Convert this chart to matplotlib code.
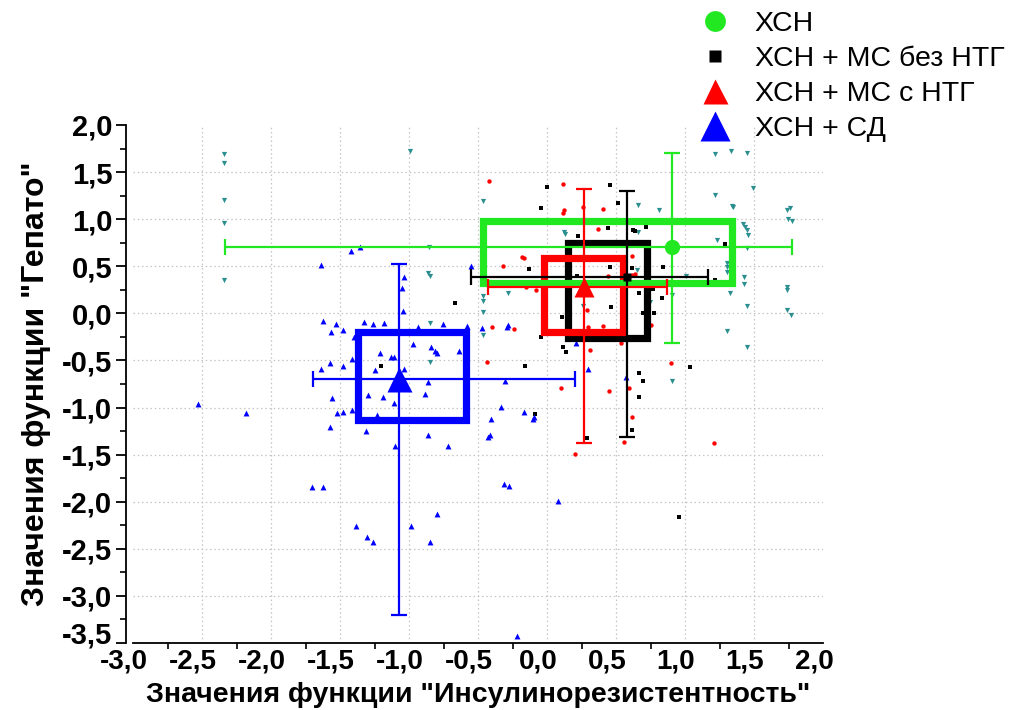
import numpy as np
import matplotlib
matplotlib.use("Agg")
import matplotlib.pyplot as plt
from matplotlib.patches import Rectangle
from matplotlib.lines import Line2D
from matplotlib.ticker import MultipleLocator, FixedLocator
from matplotlib.transforms import ScaledTranslation

plt.rcParams['font.family'] = ['Liberation Sans', 'DejaVu Sans']

# ---- individual patients: (insulin-resistance score, hepato score) ----
chsn_pts = np.array([
    (-2.338, 1.692), (-2.338, 1.600), (-2.338, 1.204), (-2.338, 0.963), (-2.338, 0.355),
    (-0.993, 1.727), (-0.853, 0.702), (-0.860, 0.432), (-0.848, 0.397), (-0.466, 1.190),
    (-0.466, 0.188), (-0.466, 0.135), (-0.466, 0.012), (-0.848, -0.099), (-0.466, -0.229),
    (-0.848, -0.519), (1.217, 1.692), (1.331, 1.727), (1.452, 1.706), (1.496, 1.334),
    (1.217, 1.257), (1.338, 1.140), (1.345, 1.126), (1.737, 1.098), (1.761, 1.116),
    (1.749, 0.999), (1.773, 0.984), (0.662, 1.151), (0.812, 1.098), (0.123, 0.867),
    (0.130, 0.843), (0.662, 0.867), (0.654, 0.461), (1.423, 0.949), (1.435, 0.920),
    (1.447, 0.885), (1.459, 0.832), (1.229, 0.779), (1.452, 0.691), (1.307, 0.532),
    (1.307, 0.489), (1.307, 0.443), (1.430, 0.390), (1.430, 0.312), (1.326, 0.213),
    (1.737, 0.283), (1.737, 0.248), (1.452, 0.082), (1.737, 0.036), (1.766, -0.017),
    (1.307, -0.187), (1.447, -0.354), (0.908, -0.714), (0.746, 0.124), (1.007, 0.397),
    (-0.280, 0.213), (0.263, 0.082), (0.908, 0.195),
])

ms_no_ntg_pts = np.array([
    (-0.667, 0.107), (-1.205, -0.558), (-0.087, -1.071), (0.698, -0.714), (0.669, -0.884),
    (0.616, -1.238), (0.292, -1.326), (0.954, -2.165), (0.003, 1.339), (0.457, 1.363),
    (0.512, 1.175), (-0.046, 1.116), (0.444, 0.910), (0.621, 0.885), (0.638, 0.878),
    (0.717, 0.920), (0.227, 0.822), (-0.128, 0.468), (0.457, 0.496), (0.614, 0.479),
    (0.838, 0.496), (0.220, 0.397), (0.771, 0.256), (0.667, 0.213), (0.831, 0.167),
    (0.461, 0.071), (0.693, 0.001), (0.775, 0.001), (0.111, -0.041), (-0.043, -0.247),
    (0.114, -0.354), (0.138, -0.413), (-0.159, -0.558), (1.036, -0.565), (0.669, -0.636),
    (1.290, 0.737), (1.217, 0.355),
])

ms_ntg_pts = np.array([
    (-0.418, 1.409), (-0.401, -0.141), (-0.433, -0.519), (0.101, -0.795), (0.203, -1.493),
    (0.447, -0.820), (0.594, -0.789), (0.613, -1.103), (0.560, -1.362), (1.210, -1.376),
    (0.118, 1.374), (0.126, 1.098), (0.116, 1.063), (0.263, 1.133), (0.408, 1.112),
    (0.372, 0.893), (-0.183, 0.596), (-0.167, 0.585), (-0.321, 0.506), (0.614, 0.609),
    (0.614, 0.408), (0.638, 0.418), (0.440, 0.397), (-0.152, 0.277), (-0.080, 0.248),
    (0.288, 0.036), (0.408, -0.134), (0.295, -0.141), (-0.239, -0.162), (0.312, -0.389),
    (0.534, -0.311), (0.896, -0.530), (0.754, -0.123),
])

dm_pts = np.array([
    (-1.420, 0.662), (-1.355, 0.702), (-1.638, 0.517), (-0.551, 0.503), (-1.036, 0.390),
    (-1.049, 0.273), (-1.041, 0.025), (-1.621, -0.077), (-1.531, -0.116), (-1.565, -0.201),
    (-1.476, -0.176), (-1.324, -0.088), (-1.259, -0.116), (-1.183, -0.099), (-0.937, -0.141),
    (-0.756, -0.113), (-0.582, -0.134), (-1.399, -0.254), (-1.208, -0.417), (-1.130, -0.460),
    (-1.111, -0.460), (-0.969, -0.328), (-0.841, -0.360), (-0.810, -0.399), (-0.795, -0.417),
    (-0.635, -0.396), (-1.411, -0.488), (-1.572, -0.530), (-1.476, -0.558), (-1.636, -0.587),
    (-1.246, -0.601), (-1.034, -0.587), (-0.860, -0.731), (-1.299, -0.866), (-1.186, -0.884),
    (-0.884, -0.859), (-1.560, -0.901), (-1.107, -0.954), (-2.527, -0.965), (-2.183, -1.054),
    (-1.524, -1.054), (-1.476, -1.043), (-1.415, -1.025), (-1.234, -1.078), (-0.408, -1.124),
    (-1.572, -1.203), (-1.314, -1.245), (-1.101, -1.404), (-0.865, -1.291), (-0.715, -1.408),
    (-0.336, -0.997), (-0.425, -1.315), (-0.413, -1.291), (-0.167, -1.043), (-0.104, -1.124),
    (-0.094, -1.103), (-1.701, -1.843), (-1.621, -1.843), (-0.312, -1.808), (-0.273, -1.832),
    (0.077, -1.988), (-1.384, -2.254), (-1.302, -2.374), (-1.263, -2.424), (-0.988, -2.254),
    (-0.797, -2.130), (-0.848, -2.424), (-0.215, -3.425), (-0.470, -0.160), (-0.280, -0.123),
    (-0.292, -0.141), (-0.304, -0.714), (0.210, -0.318), (0.295, -0.594), (0.570, -0.672),
])

# ---- group summaries ----
groups = ['ХСН', 'ХСН + МС без НТГ', 'ХСН + МС с НТГ', 'ХСН + СД']
center_x = [0.904, 0.580, 0.268, -1.072]
center_y = [0.708, 0.390, 0.280, -0.700]
whisk_x_lo = [-2.333, -0.553, -0.430, -1.698]
whisk_x_hi = [1.773, 1.169, 0.870, 0.203]
whisk_y_lo = [-0.318, -1.309, -1.372, -3.202]
whisk_y_hi = [1.706, 1.299, 1.317, 0.521]
box_x0 = [-0.462, 0.154, -0.022, -1.372]
box_x1 = [1.338, 0.722, 0.549, -0.589]
box_y0 = [0.319, -0.264, -0.201, -1.132]
box_y1 = [0.984, 0.744, 0.591, -0.194]

group_colors = ['#22e822', '#000000', '#ff0000', '#0000ff']
point_colors = ['#2b8f8f', '#000000', '#ff0000', '#0000ff']
point_markers = ['v', 's', 'o', '^']
point_sizes = [14, 8, 10, 18]
center_markers = ['o', 's', '^', '^']
center_ms = [11, 6, 15, 18]
legend_ms = [15, 8, 18, 22]
box_z = [3.4, 3.1, 3.2, 3.3]

fig = plt.figure(figsize=(10.11, 7.10), dpi=100)
ax = fig.add_axes([133 / 1011, 67 / 710, 690 / 1011, 518 / 710])

ax.set_xlim(-3.0, 2.0)
ax.set_ylim(-3.5, 2.0)

# grid
for gx in np.arange(-2.5, 2.0, 0.5):
    ax.axvline(gx, color='#c4c4c4', lw=0.9, ls=(0, (1.2, 2.2)), zorder=0.5)
for gy in np.arange(-3.0, 2.0, 0.5):
    ax.axhline(gy, color='#c4c4c4', lw=0.9, ls=(0, (1.2, 2.2)), zorder=0.5)

# patient points
for pts, c, m, s in zip([chsn_pts, ms_no_ntg_pts, ms_ntg_pts, dm_pts],
                        point_colors, point_markers, point_sizes):
    ax.scatter(pts[:, 0], pts[:, 1], s=s, c=c, marker=m, linewidths=0, zorder=2)

# boxes, whiskers and centres
for i in range(4):
    ax.add_patch(Rectangle((box_x0[i], box_y0[i]), box_x1[i] - box_x0[i],
                           box_y1[i] - box_y0[i], fill=False,
                           edgecolor=group_colors[i], lw=5.2,
                           joinstyle='miter', zorder=box_z[i]))
    xerr = [[center_x[i] - whisk_x_lo[i]], [whisk_x_hi[i] - center_x[i]]]
    yerr = [[center_y[i] - whisk_y_lo[i]], [whisk_y_hi[i] - center_y[i]]]
    ax.errorbar([center_x[i]], [center_y[i]], xerr=xerr, yerr=yerr, fmt='none',
                ecolor=group_colors[i], elinewidth=1.6, capsize=6, capthick=1.6,
                zorder=4)
    ax.plot([center_x[i]], [center_y[i]], marker=center_markers[i],
            ms=center_ms[i], color=group_colors[i], mec='none', ls='none', zorder=5)

# axes styling
for side in ('top', 'right'):
    ax.spines[side].set_visible(False)
ax.spines['left'].set_position(('outward', 5))
ax.spines['left'].set_linewidth(1.3)
ax.spines['bottom'].set_linewidth(1.3)

ax.xaxis.set_major_locator(MultipleLocator(0.5))
ax.xaxis.set_minor_locator(FixedLocator(np.arange(-2.75, 2.0, 0.5)))
ax.yaxis.set_major_locator(MultipleLocator(0.5))
ax.yaxis.set_minor_locator(MultipleLocator(0.25))

ax.tick_params(axis='x', which='major', length=0, pad=4)
ax.tick_params(axis='x', which='minor', length=4, width=1.2, direction='out')
ax.tick_params(axis='y', which='major', length=7, width=1.3, direction='out', pad=3)
ax.tick_params(axis='y', which='minor', length=4.5, width=1.2, direction='out')

def comma(v, _pos=None):
    return f'{v:.1f}'.replace('.', ',')

ax.xaxis.set_major_formatter(plt.FuncFormatter(comma))
ax.yaxis.set_major_formatter(plt.FuncFormatter(comma))
ax.tick_params(axis='x', labelsize=20)
ax.tick_params(axis='y', labelsize=21)

ax.set_xlabel('Значения функции "Инсулинорезистентность"', fontsize=20.5,
              fontweight='bold', labelpad=5)
ax.set_ylabel('Значения функции "Гепато"', fontsize=23, fontweight='bold',
              labelpad=8)

# legend
handles = [Line2D([], [], ls='none', marker=center_markers[i], ms=legend_ms[i],
                  color=group_colors[i], mec='none') for i in range(4)]
fig.legend(handles, groups, loc='upper left',
           bbox_to_anchor=(702 / 1011, 1 - 11 / 710), frameon=False,
           fontsize=20.5, handlelength=0.9, handletextpad=0.95,
           labelspacing=0.32, borderpad=0, borderaxespad=0)

# finalize tick label placement once the ticks exist
fig.canvas.draw()
shift = ScaledTranslation(-9 / 100, 0, fig.dpi_scale_trans)
for tick in ax.xaxis.get_major_ticks():
    tick.label1.set_fontweight('bold')
    tick.label1.set_transform(tick.label1.get_transform() + shift)
lift = ScaledTranslation(0, 10 / 100, fig.dpi_scale_trans)
for tick in ax.yaxis.get_major_ticks():
    tick.label1.set_fontweight('bold')
    if tick.label1.get_text() == '-3,5':
        # the lowest y label sits just above the x labels
        tick.label1.set_transform(tick.label1.get_transform() + lift)

fig.savefig('out.png', dpi=100)
